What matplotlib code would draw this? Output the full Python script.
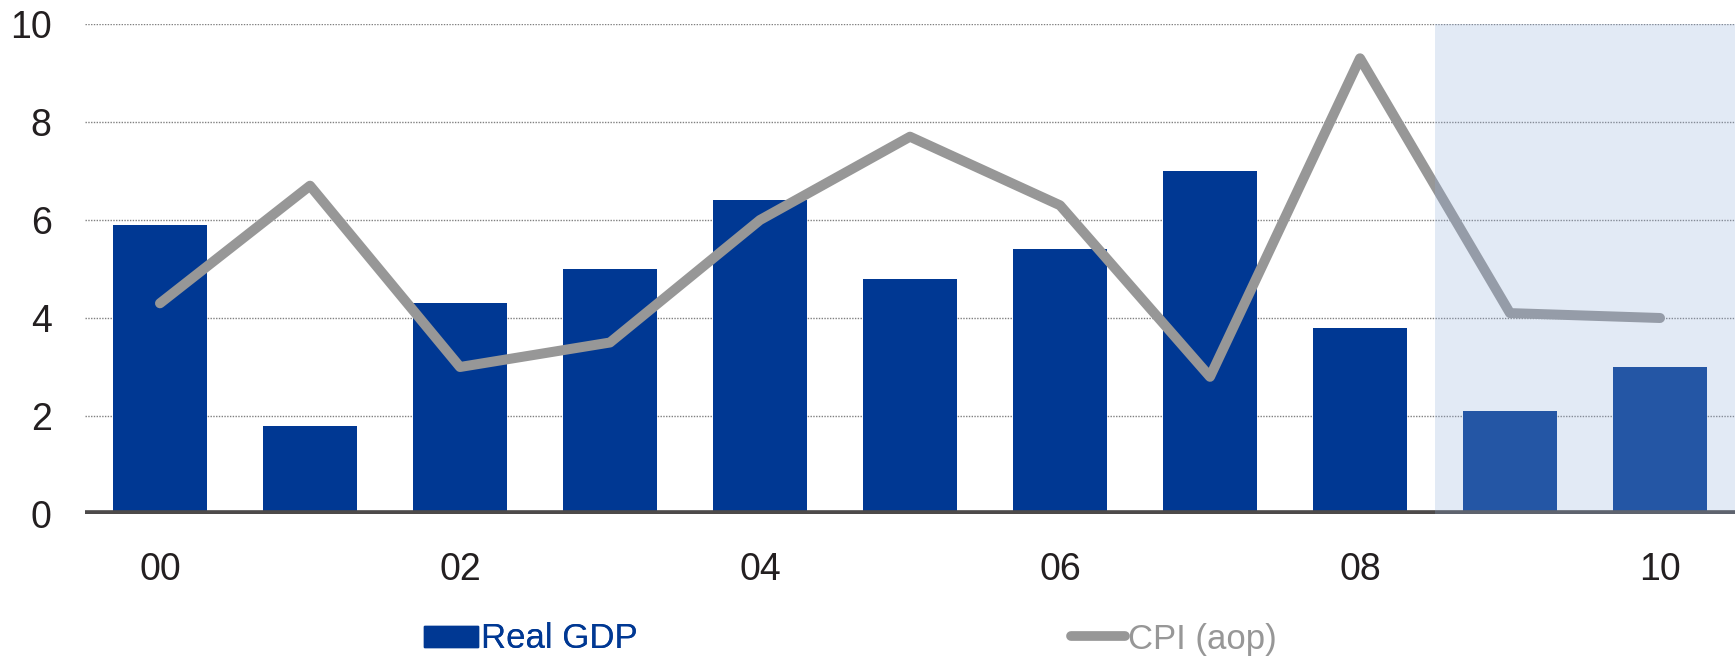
import numpy as np
import matplotlib.pyplot as plt
from matplotlib.patches import Patch
from matplotlib.lines import Line2D

plt.rcParams['font.family'] = ['Liberation Sans', 'DejaVu Sans']

years = ['00', '01', '02', '03', '04', '05', '06', '07', '08', '09', '10']
real_gdp = [5.9, 1.8, 4.3, 5.0, 6.4, 4.8, 5.4, 7.0, 3.8, 2.1, 3.0]
cpi = [4.3, 6.7, 3.0, 3.5, 6.0, 7.7, 6.3, 2.8, 9.3, 4.1, 4.0]
first_forecast = 9  # 09 and 10 are projections

blue = '#003893'
grey = '#979797'
txt = '#231F20'

fig = plt.figure(figsize=(17.35, 6.59), dpi=100)
ax = fig.add_axes([85 / 1735, 145 / 659, 1650 / 1735, 490 / 659])

x = np.arange(len(years))
ax.bar(x, real_gdp, width=0.625, color=blue, zorder=2)
ax.plot(x, cpi, color=grey, lw=7.2, solid_capstyle='round',
        solid_joinstyle='round', zorder=3)

# projection band laid over the marks
ax.axvspan(first_forecast - 0.5, len(years) - 0.5, color='#91AEDA',
           alpha=0.255, lw=0, zorder=5)

ax.axhline(0, color='#4D4A4A', lw=5.5, zorder=4)
for v in [2, 4, 6, 8, 10]:
    ax.axhline(v, color='#808080', lw=1.0, ls=(0, (1, 1)), zorder=1)

ax.set_xlim(-0.5, len(years) - 0.5)
ax.set_ylim(0, 10)
ax.set_yticks([0, 2, 4, 6, 8, 10])
ax.set_xticks(x[::2])
ax.set_xticklabels(years[::2])
ax.tick_params(axis='y', length=0, pad=24, labelsize=27, labelcolor=txt)
ax.tick_params(axis='x', length=0, pad=27, labelsize=27, labelcolor=txt)
for s in ax.spines.values():
    s.set_visible(False)

leg1 = fig.legend(handles=[Patch(color=blue)], labels=['Real GDP'],
                  loc='center left', bbox_to_anchor=(424 / 1735, 20 / 659),
                  frameon=False, borderpad=0, borderaxespad=0,
                  handlelength=1.55, handleheight=0.55, handletextpad=0.08,
                  prop={'size': 25})
leg1.get_texts()[0].set_color(blue)
leg2 = fig.legend(handles=[Line2D([], [], color=grey, lw=7, solid_capstyle='round')],
                  labels=['CPI (aop)'],
                  loc='center left', bbox_to_anchor=(1071 / 1735, 20 / 659),
                  frameon=False, borderpad=0, borderaxespad=0,
                  handlelength=1.55, handletextpad=0.08,
                  prop={'size': 25})
leg2.get_texts()[0].set_color(grey)
fig.add_artist(leg1)

plt.savefig('out.png', dpi=100)
